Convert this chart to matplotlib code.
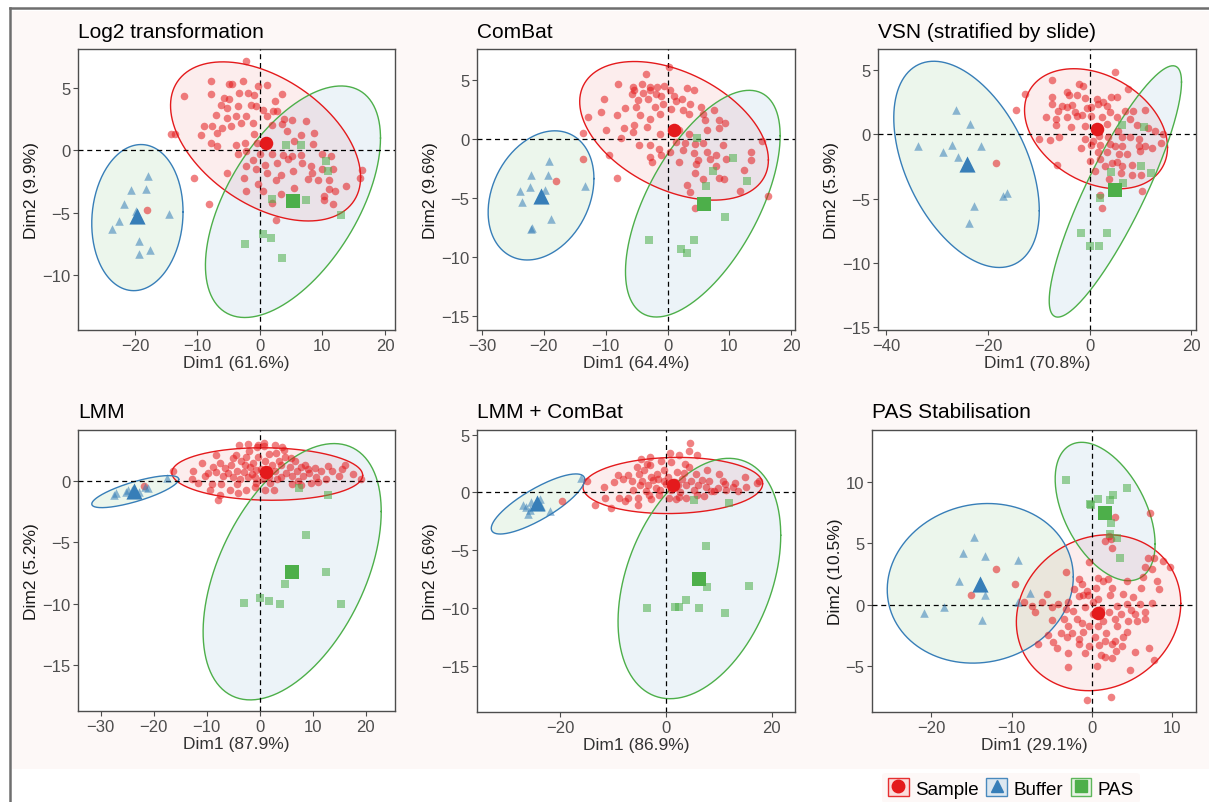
import numpy as np
import matplotlib
matplotlib.use("Agg")
import matplotlib.pyplot as plt
from matplotlib.patches import Rectangle
from matplotlib.lines import Line2D
from matplotlib.legend_handler import HandlerTuple

plt.rcParams["font.family"] = ["Liberation Sans", "DejaVu Sans"]

RED = "#E41A1C"
BLUE = "#377EB8"
GREEN = "#4DAF4A"
PINK = "#FDF8F7"

GROUPS = ["Sample", "Buffer", "PAS"]

TITLES = ["Log2 transformation", "ComBat", "VSN (stratified by slide)",
          "LMM", "LMM + ComBat", "PAS Stabilisation"]
XLABELS = ["Dim1 (61.6%)", "Dim1 (64.4%)", "Dim1 (70.8%)",
           "Dim1 (87.9%)", "Dim1 (86.9%)", "Dim1 (29.1%)"]
YLABELS = ["Dim2 (9.9%)", "Dim2 (9.6%)", "Dim2 (5.9%)",
           "Dim2 (5.2%)", "Dim2 (5.6%)", "Dim2 (10.5%)"]

# ---- Log2 transformation ----
log2_sample = [(-2.2, 7.1), (-7.9, 5.5), (-2.7, 5.5), (-4.9, 5.3), (-4.5, 5.3), (1.2, 5.2), (-0.3, 5.1),
               (-12.1, 4.3), (-7.9, 4.5), (-5.8, 4.2), (-5.0, 4.1), (-3.4, 4.6), (-1.9, 4.6), (-0.9, 4.4),
               (3.6, 4.5), (2.4, 3.9), (-6.2, 3.65), (-5.3, 3.4), (-3.5, 3.5), (-1.5, 3.65), (-0.6, 3.5),
               (0.5, 3.2), (2.1, 3.1), (2.8, 3.1), (-7.0, 2.8), (-5.2, 2.6), (-3.9, 2.7), (-2.2, 2.7),
               (1.1, 2.7), (3.8, 2.5), (5.1, 2.4), (-8.9, 1.9), (-7.7, 1.9), (-6.0, 1.8), (-4.7, 1.9),
               (-3.0, 2.2), (-1.1, 2.2), (1.9, 2.0), (3.5, 2.1), (7.4, 2.3), (-14.3, 1.3), (-13.6, 1.3),
               (-9.4, 1.25), (-6.9, 1.4), (-1.0, 1.3), (4.4, 1.5), (6.5, 1.25), (8.7, 1.4), (-7.9, 0.6),
               (-6.8, 0.3), (-3.9, 0.4), (-2.4, 0.6), (-0.4, 0.6), (5.5, 0.7), (8.5, 0.5), (-3.5, -0.3),
               (-2.3, -0.1), (0.05, -0.3), (2.0, -0.3), (3.7, -0.4), (5.1, -0.45), (6.6, -0.35), (10.0, -0.3),
               (11.4, -0.5), (-1.1, -0.8), (0.85, -1.2), (2.7, -1.0), (4.5, -0.7), (6.8, -1.0), (8.2, -1.3),
               (-2.3, -1.25), (10.0, -1.5), (11.7, -1.5), (16.3, -1.6), (-5.3, -1.8), (-0.6, -1.5), (1.2, -1.8),
               (3.3, -2.0), (5.3, -1.7), (8.4, -1.8), (-10.6, -2.2), (-2.5, -2.2), (2.6, -2.4), (7.7, -2.3),
               (9.3, -2.4), (11.1, -2.4), (16.0, -2.2), (-0.3, -2.7), (5.5, -3.0), (11.1, -3.1), (13.8, -2.85),
               (-2.3, -3.3), (0.5, -3.25), (12.0, -3.3), (3.4, -3.5), (10.2, -3.7), (-8.2, -4.35), (2.0, -4.2),
               (10.2, -4.0), (11.7, -4.3), (2.5, -5.6), (-18.0, -4.8)]
log2_buffer = [(-17.9, -2.1), (-20.6, -3.2), (-18.3, -3.1), (-21.8, -4.35), (-19.9, -4.9), (-14.6, -5.15),
               (-22.6, -5.7), (-23.7, -6.3), (-19.4, -7.3), (-17.6, -8.0), (-19.4, -8.3)]
log2_pas = [(4.2, 0.4), (6.6, 0.4), (10.6, -0.9), (10.9, -1.7), (2.0, -3.95), (7.4, -4.0), (12.9, -5.2),
            (0.5, -6.75), (1.7, -7.0), (-2.45, -7.5), (3.5, -8.6)]
log2_centroids = [(0.9, 0.6), (-19.6, -5.3), (5.3, -4.05)]
# ellipse: centre x, centre y, half width, half height, correlation
log2_ellipses = [(0.9, 0.7, 15.2, 6.37, -0.45), (-19.6, -5.4, 7.3, 5.85, 0.08), (5.28, -4.13, 14.0, 9.27, 0.55)]

# ---- ComBat ----
combat_sample = [(0.2, 6.06), (-3.5, 5.5), (-8.0, 4.6), (-5.6, 4.4), (-5.5, 4.1), (-4.1, 4.6), (-2.9, 4.4),
                 (-2.8, 4.1), (-1.7, 4.4), (-0.6, 4.45), (0.4, 4.1), (3.1, 4.3), (4.3, 4.1), (-5.8, 3.8),
                 (-4.0, 3.9), (-1.9, 3.75), (-1.0, 3.6), (1.1, 3.6), (2.3, 3.4), (-10.2, 3.4), (-4.7, 3.3),
                 (-3.2, 3.4), (-0.7, 2.9), (1.4, 3.2), (3.7, 2.9), (5.4, 2.7), (-6.8, 2.6), (-5.1, 2.65),
                 (-2.1, 2.7), (0.5, 2.5), (2.5, 2.4), (7.5, 2.4), (-10.7, 2.3), (-8.2, 2.0), (-4.5, 2.0),
                 (-2.9, 1.7), (-1.25, 2.1), (3.5, 2.1), (6.1, 1.55), (8.3, 1.55), (-12.9, 1.8), (5.8, 2.1),
                 (9.3, 1.3), (-7.1, 0.9), (-5.5, 1.2), (-3.4, 1.0), (-9.9, 0.7), (-5.6, 0.6), (-1.25, 0.4),
                 (1.9, 0.7), (3.4, 0.4), (6.4, 0.7), (8.3, 0.9), (-13.6, 0.5), (-7.6, 0.05), (-4.6, -0.55),
                 (-2.9, -0.5), (1.4, -0.3), (2.8, -0.4), (4.5, -0.45), (5.7, -0.4), (8.9, -0.5), (15.3, -0.2),
                 (-1.4, -0.85), (0.4, -1.1), (2.5, -0.95), (4.2, -1.2), (6.4, -1.1), (7.9, -1.4), (13.5, -1.1),
                 (-9.4, -1.35), (-2.8, -1.55), (-1.1, -1.4), (5.0, -1.8), (6.9, -1.7), (9.5, -1.7), (13.5, -1.8),
                 (-13.7, -1.7), (-2.45, -2.0), (1.8, -2.0), (4.6, -2.1), (7.9, -2.3), (12.3, -2.65), (4.5, -2.9),
                 (8.3, -3.3), (9.2, -3.4), (-8.1, -3.3), (5.7, -3.4), (3.2, -3.9), (11.7, -4.45), (3.6, -4.55),
                 (16.3, -4.85), (4.4, -5.9), (-18.1, -3.6)]
combat_buffer = [(-19.1, -1.9), (-22.0, -3.05), (-19.3, -3.05), (-22.3, -4.1), (-19.8, -4.3), (-23.8, -4.45),
                 (-13.3, -4.0), (-23.5, -5.35), (-18.9, -6.8), (-21.9, -7.6), (-22.1, -7.65)]
combat_pas = [(4.75, 0.05), (10.5, -1.6), (7.4, -2.7), (12.8, -3.6), (6.2, -4.0), (9.3, -6.65), (-3.0, -8.6),
              (4.2, -8.6), (2.2, -9.3), (3.1, -9.7)]
combat_centroids = [(1.0, 0.7), (-20.5, -4.85), (5.95, -5.5)]
combat_ellipses = [(1.05, 0.67, 15.25, 5.87, -0.42), (-20.45, -4.8, 8.55, 5.47, 0.26), (5.7, -5.5, 12.5, 9.6, 0.6)]

# ---- VSN (stratified by slide) ----
vsn_sample = [(4.9, 4.8), (-7.5, 4.2), (-2.0, 3.9), (-1.4, 3.7), (-4.4, 3.3), (-4.1, 3.0), (-12.7, 3.1),
              (-2.4, 3.0), (-0.85, 2.8), (1.5, 2.75), (2.7, 2.5), (4.2, 2.9), (5.3, 2.9), (7.6, 3.5),
              (-7.4, 2.9), (-14.5, 1.9), (-7.4, 2.3), (-5.4, 2.2), (-4.4, 2.1), (-3.5, 2.25), (0.3, 2.1),
              (1.6, 2.3), (3.4, 2.2), (-6.3, 1.8), (-2.9, 1.7), (-1.5, 1.5), (-0.5, 2.0), (4.0, 1.7),
              (7.0, 1.8), (8.6, 1.8), (10.9, 1.9), (-8.5, 1.3), (-6.7, 1.2), (-4.4, 1.35), (-2.5, 1.4),
              (0.3, 1.4), (2.4, 1.35), (5.3, 1.3), (8.0, 1.2), (-6.6, 0.7), (-3.6, 0.55), (-1.0, 0.65),
              (1.1, 0.5), (3.4, 0.8), (9.4, 0.7), (11.5, 0.5), (5.5, 0.2), (12.8, 0.2), (14.5, 0.0),
              (-10.0, -0.35), (-7.8, -0.45), (-6.1, -0.25), (-1.0, -0.35), (0.6, -0.5), (1.75, -0.15),
              (3.7, -0.25), (6.45, -0.2), (8.0, -0.2), (9.6, -0.4), (14.0, -0.7), (-1.8, -1.1), (0.2, -0.85),
              (2.1, -0.85), (4.0, -0.8), (5.0, -0.9), (6.45, -0.9), (9.7, -0.9), (10.9, -0.9), (1.6, -1.4),
              (3.4, -1.4), (5.7, -1.55), (7.3, -1.55), (9.9, -1.3), (12.2, -1.05), (0.0, -2.1), (2.1, -1.9),
              (4.4, -2.25), (5.3, -2.2), (-6.4, -2.4), (3.1, -2.45), (6.45, -2.45), (8.3, -2.4), (1.1, -2.85),
              (6.2, -3.0), (8.3, -3.2), (10.1, -3.2), (3.8, -3.5), (10.2, -4.4), (2.0, -4.7), (2.5, -5.75),
              (-18.4, -2.25)]
vsn_buffer = [(-26.2, 1.9), (-23.5, 0.75), (-33.7, -0.95), (-27.0, -0.85), (-21.3, -0.95), (-28.9, -1.4),
              (-25.8, -1.75), (-16.3, -4.55), (-17.1, -4.8), (-22.7, -5.6), (-23.8, -6.9)]
vsn_pas = [(6.45, 0.7), (10.6, 0.55), (10.0, -2.45), (4.1, -2.95), (6.6, -3.8), (12.05, -3.0), (2.0, -4.95),
           (-1.75, -7.7), (3.4, -7.7), (0.0, -8.65), (1.75, -8.65)]
vsn_centroids = [(1.5, 0.4), (-24.2, -2.3), (5.05, -4.3)]
vsn_ellipses = [(1.25, 0.41, 14.05, 4.66, -0.31), (-24.2, -2.35, 14.3, 8.0, -0.45), (5.05, -4.45, 13.0, 9.75, 0.87)]

# ---- LMM ----
lmm_sample = [(-4.0, 2.9), (-2.3, 3.0), (-0.25, 2.9), (0.7, 3.05), (2.8, 2.9), (4.2, 2.7), (4.6, 2.5),
              (-0.6, 2.7), (0.75, 2.8), (1.7, 2.15), (-4.5, 2.05), (-8.3, 2.05), (-2.6, 1.9), (-0.3, 1.9),
              (6.65, 1.6), (8.6, 1.25), (16.1, 1.3), (-11.0, 1.45), (-7.5, 1.45), (-5.4, 1.3), (-2.75, 1.25),
              (-1.2, 1.4), (4.0, 1.25), (5.6, 1.1), (7.7, 1.1), (10.4, 1.0), (-16.3, 0.8), (-9.7, 0.6),
              (-8.2, 0.7), (-6.0, 0.6), (-4.3, 0.8), (-3.0, 0.7), (-0.7, 0.85), (2.8, 0.8), (5.0, 0.6),
              (7.0, 0.8), (9.35, 0.6), (11.55, 0.8), (13.6, 0.8), (14.9, 0.4), (-12.8, 0.15), (-10.3, 0.35),
              (-7.0, 0.35), (-5.1, 0.25), (-2.2, 0.25), (1.8, 0.3), (4.0, 0.25), (6.1, 0.35), (8.1, 0.35),
              (10.6, 0.3), (12.4, 0.15), (19.1, 0.15), (-11.7, -0.2), (-9.0, -0.3), (-7.3, -0.25), (-4.3, -0.25),
              (-0.7, -0.2), (6.0, -0.25), (7.7, -0.4), (9.7, -0.2), (-9.35, -0.75), (-5.7, -0.8), (-2.6, -0.8),
              (0.9, -0.75), (2.6, -0.75), (-7.6, -1.2), (-4.1, -1.05), (-7.85, -1.6), (-12.6, 0.8), (5.9, 1.8),
              (2.3, 1.25), (-1.5, 0.5), (0.2, 0.9), (1.0, 1.6), (-3.5, 1.6), (3.3, 0.1), (-21.8, -0.45),
              (-1.9, 1.1), (-0.9, 0.3), (0.5, 0.1), (1.5, 0.8), (3.6, 1.6), (-3.8, 0.1), (-6.5, 1.0),
              (4.8, 1.9), (7.2, 0.0), (9.0, 0.9), (11.0, -0.1), (-1.0, -0.5), (2.0, -0.2), (-8.8, 1.1),
              (-5.0, 1.8), (12.9, 1.2), (15.5, 0.9), (17.6, 0.5), (3.0, 2.2), (-2.0, 2.4)]
lmm_buffer = [(-27.5, -1.15), (-27.05, -1.05), (-25.3, -0.9), (-24.2, -0.75), (-23.3, -1.05), (-21.7, -0.5),
              (-21.1, -0.6), (-17.6, 0.2), (-24.9, -0.8), (-22.7, -0.9)]
lmm_pas = [(7.3, -0.6), (12.8, -1.2), (8.7, -4.4), (12.5, -7.4), (4.8, -8.4), (-2.9, -9.9), (0.1, -9.5),
           (1.8, -9.8), (3.9, -10.05), (15.25, -10.05)]
lmm_centroids = [(1.2, 0.7), (-23.7, -0.85), (6.1, -7.4)]
lmm_ellipses = [(1.4, 0.53, 18.0, 2.13, -0.05), (-23.5, -0.9, 8.2, 1.3, 0.77), (6.1, -7.4, 16.8, 10.4, 0.47)]

# ---- LMM + ComBat ----
lmmc_sample = [(4.6, 4.25), (0.7, 3.4), (2.4, 3.25), (4.3, 3.55), (5.9, 3.2), (-4.8, 2.9), (-3.1, 3.1),
               (-3.6, 2.45), (-3.0, 2.4), (-0.9, 2.7), (1.0, 2.6), (3.5, 2.5), (-5.5, 2.2), (-0.45, 1.9),
               (2.0, 1.8), (7.8, 1.9), (3.3, 1.7), (-9.1, 1.5), (-7.3, 1.5), (-5.2, 1.6), (-2.8, 1.35),
               (-1.5, 1.15), (5.75, 1.6), (14.9, 1.35), (-8.15, 1.15), (-6.4, 1.0), (-4.5, 1.0), (-2.5, 1.05),
               (-0.4, 1.0), (4.7, 1.0), (6.7, 1.05), (8.1, 0.95), (10.8, 0.95), (13.0, 0.85), (17.6, 1.0),
               (-14.9, 0.95), (-11.8, 0.5), (-5.0, 0.6), (-3.5, 0.65), (2.3, 0.6), (3.85, 0.6), (6.1, 0.6),
               (7.6, 0.45), (11.1, 0.7), (15.2, 0.45), (17.3, 0.8), (-1.1, 0.2), (1.0, 0.2), (2.6, 0.0),
               (5.2, 0.2), (9.1, 0.15), (11.4, 0.2), (9.85, 0.35), (-11.6, -0.45), (-8.9, -0.5), (-7.3, -0.45),
               (-5.3, -0.5), (-2.8, -0.6), (2.4, -0.4), (3.85, -0.45), (7.1, -0.3), (-13.5, -1.05),
               (-10.4, -1.35), (-7.7, -0.7), (-5.3, -1.05), (0.5, -0.45), (-1.8, 1.6), (0.3, 1.3), (1.6, 0.9),
               (-3.9, 0.1), (12.6, 0.5), (-19.8, -0.7), (-2.0, 0.4), (0.0, 0.7), (3.0, 1.2), (-6.2, 0.2),
               (5.9, -0.2), (8.5, 0.1), (-4.2, 1.9), (-1.3, -0.2), (4.4, 2.2), (10.0, 1.6), (13.7, 0.1),
               (-9.8, 0.9), (1.8, -0.6), (-3.3, -0.2)]
lmmc_buffer = [(-27.0, -1.05), (-26.5, -1.25), (-25.8, -1.5), (-24.9, -1.0), (-23.8, -0.6), (-23.6, -1.15),
               (-21.9, -1.65), (-16.2, 1.25), (-26.2, -1.85), (-25.5, -0.8)]
lmmc_pas = [(5.2, -0.65), (11.9, -0.95), (7.5, -4.65), (7.8, -8.2), (15.7, -8.1), (3.85, -9.35), (1.6, -9.9),
            (2.4, -9.9), (6.2, -10.0), (-3.55, -10.0), (11.1, -10.4)]
lmmc_centroids = [(1.3, 0.6), (-24.4, -0.9), (6.25, -7.45)]
lmmc_ellipses = [(1.27, 0.6, 17.0, 2.43, 0.06), (-24.25, -1.0, 8.85, 2.6, 0.81), (6.3, -7.45, 15.4, 10.4, 0.36)]

# ---- PAS Stabilisation ----
pas_sample = [(7.3, 7.45), (2.9, 7.1), (1.65, 5.2), (2.35, 5.35), (2.5, 4.6), (2.1, 5.6), (7.05, 3.8),
              (7.8, 3.8), (8.85, 3.6), (6.65, 3.1), (7.55, 2.9), (9.8, 3.05), (-0.3, 3.45), (-11.95, 2.95),
              (-3.25, 2.65), (4.45, 1.95), (6.35, 2.3), (8.1, 1.95), (-1.55, 2.1), (-1.25, 1.7), (0.8, 2.2),
              (1.45, 1.95), (2.0, 2.1), (-9.6, 1.7), (0.55, 1.4), (2.5, 1.4), (6.2, 1.4), (8.4, 1.3),
              (-1.65, 0.75), (-1.1, 0.8), (-0.5, 0.8), (2.3, 0.8), (3.95, 0.85), (5.1, 0.6), (-15.05, 0.8),
              (-8.5, 0.25), (-6.2, 0.25), (-4.15, 0.1), (-2.9, 0.2), (0.1, 0.2), (0.75, 0.45), (3.1, -0.1),
              (4.35, 0.05), (6.0, 0.05), (7.5, 0.15), (-7.45, -0.1), (-4.9, -0.2), (-3.25, -0.35), (-2.3, -0.5),
              (-0.8, -0.2), (0.1, -0.75), (2.15, -0.6), (3.65, -0.75), (5.4, -0.75), (6.65, -0.55), (-7.1, -0.6),
              (-4.9, -1.2), (-3.45, -1.15), (-1.85, -1.15), (-1.25, -1.5), (1.45, -1.35), (2.9, -1.15),
              (4.55, -1.35), (5.7, -1.35), (6.65, -1.15), (-2.9, -1.7), (-0.4, -1.7), (0.8, -1.7), (3.1, -1.7),
              (-3.8, -2.25), (-2.5, -2.25), (-1.05, -2.2), (1.8, -2.25), (4.35, -2.2), (-5.5, -2.45),
              (-3.1, -2.65), (-1.65, -2.8), (0.4, -2.6), (1.65, -2.95), (2.9, -2.9), (3.95, -2.65),
              (-6.65, -3.15), (-4.8, -3.0), (-1.6, -3.2), (-0.4, -3.35), (0.9, -3.25), (2.5, -3.2), (3.75, -3.35),
              (7.15, -3.5), (-4.35, -3.5), (-2.9, -3.9), (-0.9, -3.9), (1.1, -4.05), (1.65, -4.2), (3.0, -3.75),
              (5.4, -3.8), (2.5, -4.3), (-2.9, -5.05), (0.65, -5.0), (4.75, -5.3), (7.8, -4.5), (-0.55, -7.7),
              (2.4, -7.5), (-0.6, 1.1), (1.2, -0.3), (-2.2, 1.3), (4.9, -0.4), (-5.6, 0.9)]
pas_buffer = [(-14.7, 5.5), (-16.0, 4.2), (-13.25, 4.0), (-9.2, 3.65), (-16.5, 1.9), (-13.25, 0.8), (-7.75, 1.0),
              (-9.25, 0.2), (-18.45, -0.2), (-20.95, -0.7), (-13.65, -1.2)]
pas_pas = [(-3.2, 10.1), (4.45, 9.45), (2.65, 8.95), (0.75, 8.6), (2.25, 8.55), (-0.2, 8.2), (-0.1, 8.1),
           (2.35, 6.65), (2.3, 5.75), (3.2, 5.4), (3.55, 3.8)]
pas_centroids = [(0.8, -0.7), (-13.9, 1.7), (1.7, 7.5)]
pas_ellipses = [(0.85, -0.64, 10.25, 6.33, 0.12), (-13.9, 1.75, 11.6, 6.48, 0.08), (1.67, 7.58, 6.23, 5.62, -0.47)]

XLIMS = [(-29.1, 21.6), (-30.8, 20.6), (-41.6, 20.9), (-34.3, 25.5), (-35.8, 24.4), (-27.4, 13.0)]
YLIMS = [(-14.4, 8.1), (-16.2, 7.6), (-15.2, 6.6), (-18.7, 4.1), (-19.0, 5.4), (-8.7, 14.2)]
XTICKS = [[-20, -10, 0, 10, 20], [-30, -20, -10, 0, 10, 20], [-40, -20, 0, 20],
          [-30, -20, -10, 0, 10, 20], [-20, 0, 20], [-20, -10, 0, 10]]
YTICKS = [[-10, -5, 0, 5], [-15, -10, -5, 0, 5], [-15, -10, -5, 0, 5],
          [-15, -10, -5, 0], [-15, -10, -5, 0, 5], [-5, 0, 5, 10]]

# axes boxes in pixels: left, top, right, bottom
AX_PX = [(78, 50, 395, 331), (477, 50, 795, 331), (878, 50, 1196, 331),
         (78, 431, 395, 712), (477, 431, 795, 713), (872, 431, 1196, 713)]

W, H = 1209, 803

PANELS = [
    (log2_sample, log2_buffer, log2_pas, log2_centroids, log2_ellipses),
    (combat_sample, combat_buffer, combat_pas, combat_centroids, combat_ellipses),
    (vsn_sample, vsn_buffer, vsn_pas, vsn_centroids, vsn_ellipses),
    (lmm_sample, lmm_buffer, lmm_pas, lmm_centroids, lmm_ellipses),
    (lmmc_sample, lmmc_buffer, lmmc_pas, lmmc_centroids, lmmc_ellipses),
    (pas_sample, pas_buffer, pas_pas, pas_centroids, pas_ellipses),
]

EDGE = [RED, BLUE, GREEN]
FILL = [RED, GREEN, BLUE]   # fills are swapped in the original figure
FILL_ALPHA = [0.08, 0.1, 0.09]
MARK = ["o", "^", "s"]
PT_SIZE = [30, 38, 28]
CT_SIZE = [95, 135, 90]


def ellipse_xy(cx, cy, rx, ry, rho):
    t = np.linspace(0, 2 * np.pi, 240)
    d = np.arccos(np.clip(rho, -1, 1))
    return cx + rx * np.cos(t), cy + ry * np.cos(t + d)


def draw_panel(ax, i):
    sample, buffer, pas, cents, ells = PANELS[i]
    for k, e in enumerate(ells):
        ex, ey = ellipse_xy(*e)
        ax.fill(ex, ey, color=FILL[k], alpha=FILL_ALPHA[k], lw=0, zorder=1)
        ax.plot(ex, ey, color=EDGE[k], lw=1.0, zorder=2)
    ax.axhline(0, color="black", ls=(0, (4, 3)), lw=0.9, zorder=3)
    ax.axvline(0, color="black", ls=(0, (4, 3)), lw=0.9, zorder=3)
    for k, pts in enumerate([sample, buffer, pas]):
        pts = np.array(pts)
        ax.scatter(pts[:, 0], pts[:, 1], s=PT_SIZE[k], marker=MARK[k], color=EDGE[k],
                   alpha=0.55, lw=0, zorder=4)
        ax.scatter([cents[k][0]], [cents[k][1]], s=CT_SIZE[k], marker=MARK[k],
                   color=EDGE[k], lw=0, zorder=5)

    ax.set_xlim(*XLIMS[i])
    ax.set_ylim(*YLIMS[i])
    ax.set_xticks(XTICKS[i])
    ax.set_yticks(YTICKS[i])
    ax.tick_params(colors="#4D4D4D", labelsize=12, length=3.5, width=0.8, pad=2)
    for s in ax.spines.values():
        s.set_color("#4D4D4D")
        s.set_linewidth(1.0)
    ax.set_xlabel(XLABELS[i], fontsize=12.5, color="#333333", labelpad=2)
    ax.set_ylabel(YLABELS[i], fontsize=12.5, color="#1A1A1A", labelpad=2)
    ax.set_title(TITLES[i], loc="left", fontsize=15, pad=9, color="black")


def main():
    fig = plt.figure(figsize=(W / 100, H / 100), dpi=100)
    fig.patch.set_facecolor("white")

    # pink panel background and grey frame lines
    fig.add_artist(Rectangle((12 / W, 1 - 770 / H), 1 - 12 / W, (770 - 12) / H,
                             transform=fig.transFigure, facecolor=PINK, edgecolor="none", zorder=0))
    fig.add_artist(Line2D([10 / W, 1], [1 - 9 / H, 1 - 9 / H], transform=fig.transFigure,
                          color="#6E6E6E", lw=1.8))
    fig.add_artist(Line2D([10 / W, 10 / W], [0, 1 - 9 / H], transform=fig.transFigure,
                          color="#6E6E6E", lw=1.8))

    for i, (l, t, r, b) in enumerate(AX_PX):
        ax = fig.add_axes([l / W, 1 - b / H, (r - l) / W, (b - t) / H])
        ax.set_facecolor("white")
        draw_panel(ax, i)

    handles = []
    key_fill = ["#FBDADA", "#D9E6F0", "#E6F2E4"]
    for k in range(3):
        box = Rectangle((0, 0), 1, 1, facecolor=key_fill[k], edgecolor=EDGE[k], lw=1.0, alpha=0.9)
        mk = Line2D([], [], marker=MARK[k], color=EDGE[k], ls="none", markersize=9)
        handles.append((box, mk))
    leg = fig.legend(handles, GROUPS, loc="center", bbox_to_anchor=(1011 / W, 1 - 789 / H),
                     ncol=3, frameon=True, fontsize=13.5, handlelength=1.1, handleheight=1.1,
                     handletextpad=0.35, columnspacing=0.4, borderpad=0.3,
                     handler_map={tuple: HandlerTuple(ndivide=1)})
    leg.get_frame().set_facecolor(PINK)
    leg.get_frame().set_edgecolor("none")
    leg.get_frame().set_alpha(1)

    fig.savefig("out.png", dpi=100, facecolor=fig.get_facecolor())
    plt.close(fig)


if __name__ == "__main__":
    main()
